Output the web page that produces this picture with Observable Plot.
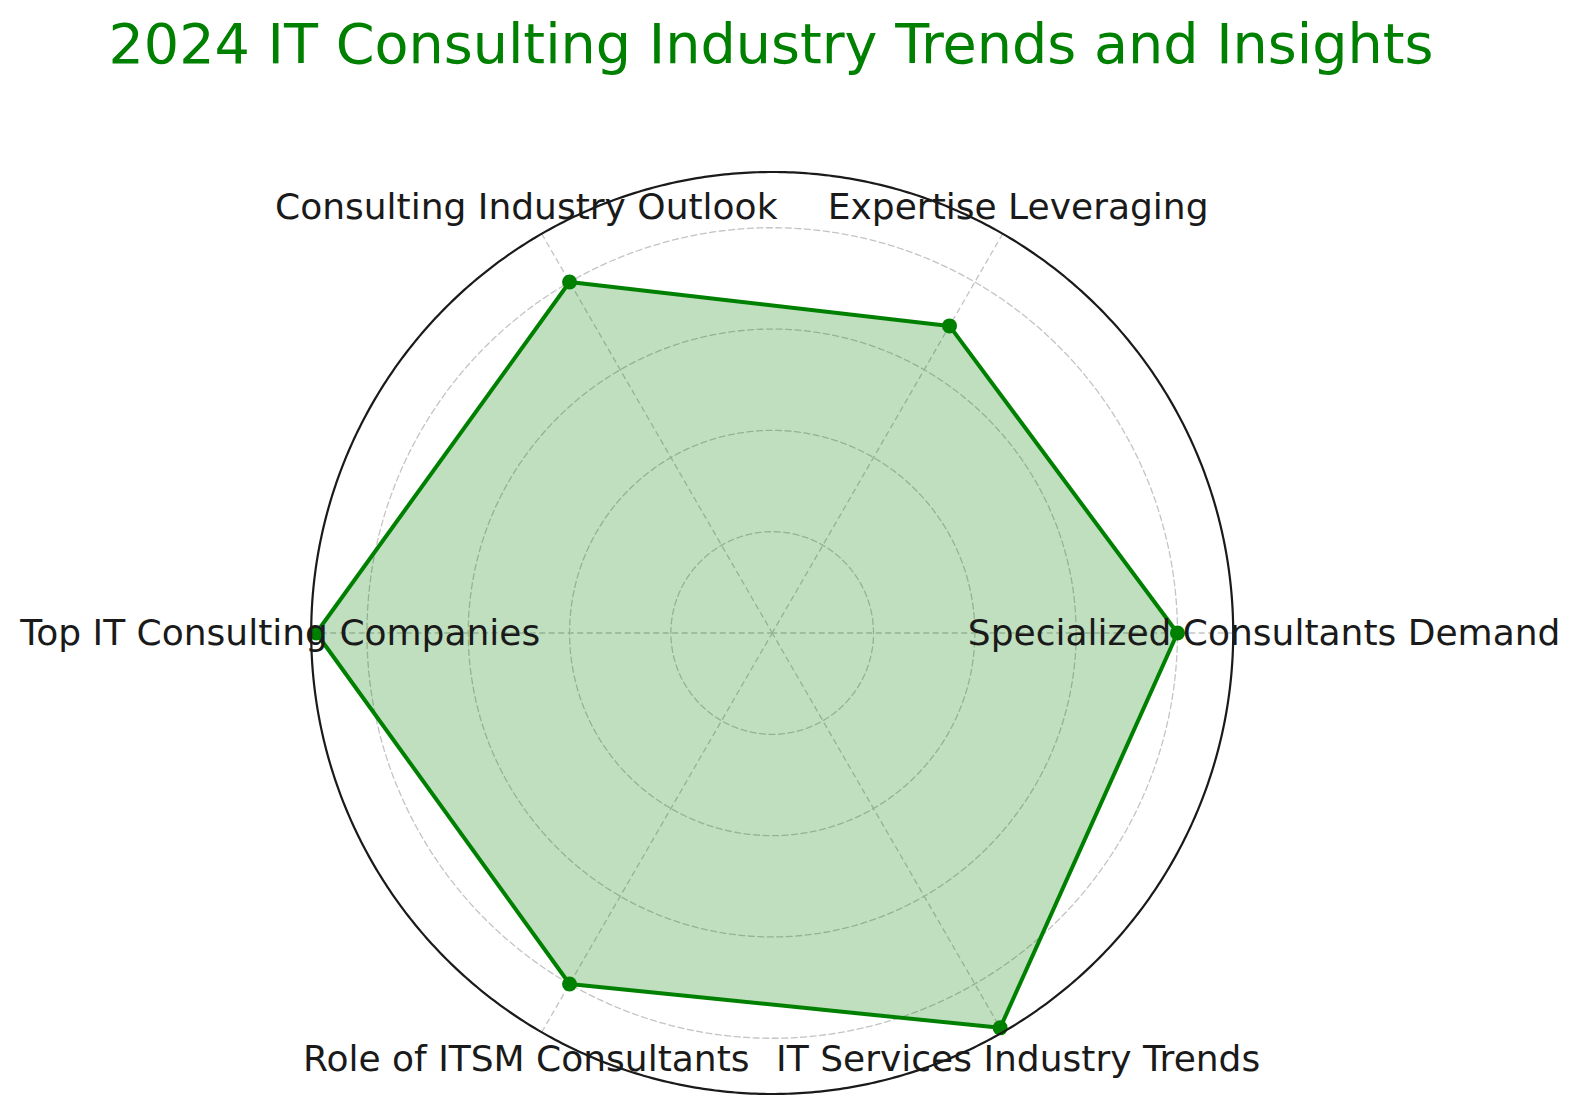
<!DOCTYPE html>
<html><head><meta charset="utf-8">
<script src="https://cdn.jsdelivr.net/npm/d3@7"></script>
<script src="https://cdn.jsdelivr.net/npm/@observablehq/plot@0.6"></script>
<style>
body{margin:0;background:#fff;}
#wrap{position:relative;width:1579px;height:1115px;overflow:hidden;}
#title{position:absolute;left:0;top:11px;width:1542px;text-align:center;font-family:"DejaVu Sans";font-size:55.6px;line-height:normal;color:#008000;white-space:nowrap;}
#chart{position:absolute;left:0;top:0;}
</style></head>
<body><div id="wrap"><div id="chart"></div><div id="title">2024 IT Consulting Industry Trends and Insights</div></div>
<script>
const categories = ["Specialized Consultants Demand","Expertise Leveraging","Consulting Industry Outlook","Top IT Consulting Companies","Role of ITSM Consultants","IT Services Industry Trends"];
const values = [80, 70, 80, 90, 80, 90];
const gridValues = [20, 40, 60, 80];
const rMax = 91;
const labelR = 97.1;

const K = 0.01; // value -> degrees of arc
const lon = (i) => 90 + 60 * i;
const lat = (v) => 90 - v * K;
const circle = (r) => d3.geoCircle().center([0, 90]).radius(r * K).precision(0.5)();

const pts = categories.map((c, i) => ({c, i, v: values[i]}));

const plot = Plot.plot({
  width: 1579,
  height: 1115,
  marginLeft: 310.7,
  marginRight: 346.3,
  marginTop: 171.5,
  marginBottom: 21.5,
  projection: {type: "azimuthal-equidistant", rotate: [0, -90], domain: circle(rMax), inset: 0, clip: false},
  marks: [
    Plot.geo(gridValues, {geometry: (r) => circle(r), stroke: "#c4c4c4", strokeWidth: 1.3, strokeDasharray: "6,3.5", fill: "none"}),
    Plot.link(pts, {x1: (d) => lon(d.i), y1: lat(rMax), x2: (d) => lon(d.i), y2: 90, stroke: "#c4c4c4", strokeWidth: 1.3, strokeDasharray: "6,3.5"}),
    Plot.line(pts, {x: (d) => lon(d.i), y: (d) => lat(d.v), curve: "linear-closed", fill: "#008000", fillOpacity: 0.25, stroke: "#008000", strokeWidth: 4}),
    Plot.dot(pts, {x: (d) => lon(d.i), y: (d) => lat(d.v), r: 7.5, fill: "#008000", stroke: "none"}),
    Plot.geo([rMax], {geometry: (r) => circle(r), stroke: "#1a1a1a", strokeWidth: 2.2, fill: "none"}),
    Plot.text(pts, {x: (d) => lon(d.i), y: lat(labelR), text: "c", fontSize: 36, fontFamily: "DejaVu Sans", fill: "#1a1a1a", textAnchor: "middle", lineAnchor: "middle"})
  ]
});
document.getElementById("chart").appendChild(plot);
</script>
</body></html>
